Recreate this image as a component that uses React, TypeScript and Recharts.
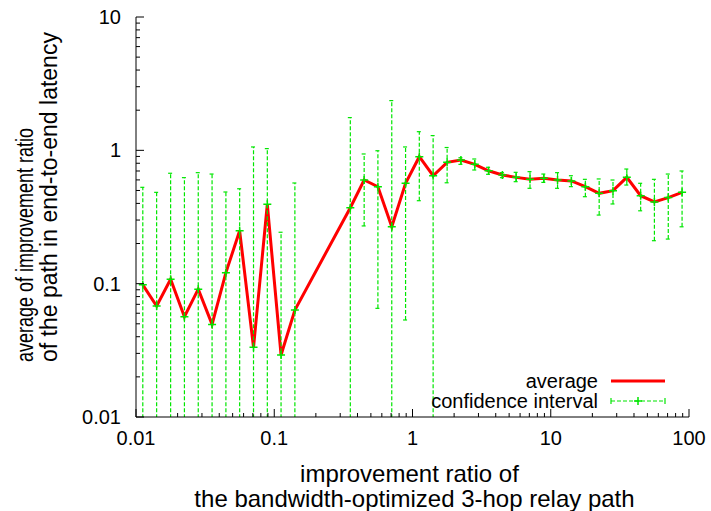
import React from 'react';
import * as R from 'recharts';
import { ComposedChart, Line, ErrorBar, XAxis, YAxis, Legend } from 'recharts';

// bin centres of the improvement ratio (log-spaced, 0.1 decade)
const X_VALUES = [
  0.0112, 0.0141, 0.0178, 0.0224, 0.0282, 0.0355, 0.0447, 0.0562, 0.0708, 0.0891, 0.112, 0.141,
  0.355, 0.447, 0.562, 0.708, 0.891, 1.12, 1.41, 1.78, 2.24, 2.82, 3.55, 4.47, 5.62, 7.08, 8.91,
  11.2, 14.1, 17.8, 22.4, 28.2, 35.5, 44.7, 56.2, 70.8, 89.1,
];

const AVERAGE = [
  0.098, 0.068, 0.108, 0.0565, 0.091, 0.0495, 0.121, 0.249, 0.0333, 0.394, 0.0292, 0.0634,
  0.371, 0.599, 0.533, 0.267, 0.566, 0.896, 0.645, 0.813, 0.846, 0.785, 0.703, 0.653, 0.627, 0.606, 0.617,
  0.599, 0.589, 0.534, 0.476, 0.498, 0.627, 0.457, 0.41, 0.442, 0.484,
];

// lower end of the interval; 0.001 = runs off the bottom of the axis
const CI_LOW = [
  0.001, 0.001, 0.001, 0.001, 0.001, 0.001, 0.001, 0.001, 0.001, 0.001, 0.001, 0.001,
  0.001, 0.271, 0.0653, 0.001, 0.0534, 0.419, 0.001, 0.571, 0.785, 0.712, 0.661, 0.624, 0.582, 0.519, 0.575,
  0.519, 0.534, 0.449, 0.327, 0.396, 0.549, 0.352, 0.21, 0.216, 0.267,
];

const CI_HIGH = [
  0.528, 0.484, 0.673, 0.624, 0.68, 0.664, 0.487, 0.515, 1.06, 1.03, 0.243, 0.569,
  1.76, 0.939, 0.993, 2.36, 1.06, 1.38, 1.29, 1.05, 0.88, 0.861, 0.746, 0.68, 0.684, 0.692, 0.664,
  0.68, 0.645, 0.606, 0.61, 0.599, 0.724, 0.566, 0.606, 0.664, 0.7,
];

const X_MAJOR = [0.01, 0.1, 1, 10, 100];
const X_LABELS = ['0.01', '0.1', '1', '10', '100'];
const Y_MAJOR = [0.01, 0.1, 1, 10];
const Y_LABELS = ['0.01', '0.1', '1', '10'];
const MINOR_STEPS = [2, 3, 4, 5, 6, 7, 8, 9];

const FONT = '"Liberation Sans", Arial, Helvetica, sans-serif';
const RED = '#ff0000';
const GREEN = '#00e600';

const withMinor = (majors: number[]) =>
  majors.flatMap((m, i) =>
    i < majors.length - 1 ? [m, ...MINOR_STEPS.map((s) => +(m * s).toPrecision(3))] : [m]
  );

const X_TICKS = withMinor(X_MAJOR);
const Y_TICKS = withMinor(Y_MAJOR);

const majorIndex = (majors: number[], v: number) =>
  majors.findIndex((m) => Math.abs(m - v) < m * 1e-6);

const data = X_VALUES.map((x, i) => ({
  x,
  avg: AVERAGE[i],
  ci: [AVERAGE[i] - CI_LOW[i], CI_HIGH[i] - AVERAGE[i]],
}));

const BottomTick = ({ x, y, payload }: any) => {
  const idx = majorIndex(X_MAJOR, payload.value);
  return (
    <g>
      <line x1={x} x2={x} y1={y} y2={y - (idx >= 0 ? 8 : 4)} stroke="#000" />
      {idx >= 0 && (
        <text x={x} y={y + 28} textAnchor="middle" fontSize={20} fontFamily={FONT} fill="#000">
          {X_LABELS[idx]}
        </text>
      )}
    </g>
  );
};

const TopTick = ({ x, y, payload }: any) => {
  const len = majorIndex(X_MAJOR, payload.value) >= 0 ? 8 : 4;
  return <line x1={x} x2={x} y1={y} y2={y + len} stroke="#000" />;
};

const LeftTick = ({ x, y, payload }: any) => {
  const idx = majorIndex(Y_MAJOR, payload.value);
  return (
    <g>
      <line x1={x} x2={x + (idx >= 0 ? 8 : 4)} y1={y} y2={y} stroke="#000" />
      {idx >= 0 && (
        <text x={x - 15} y={y + 7} textAnchor="end" fontSize={20} fontFamily={FONT} fill="#000">
          {Y_LABELS[idx]}
        </text>
      )}
    </g>
  );
};

const RightTick = ({ x, y, payload }: any) => {
  const len = majorIndex(Y_MAJOR, payload.value) >= 0 ? 8 : 4;
  return <line x1={x} x2={x - len} y1={y} y2={y} stroke="#000" />;
};

const XTitle = ({ viewBox }: any) => {
  const cx = viewBox.x + viewBox.width / 2;
  return (
    <text textAnchor="middle" fontSize={24} fontFamily={FONT} fill="#000">
      <tspan x={cx - 3} y={viewBox.y + 65}>improvement ratio of</tspan>
      <tspan x={cx + 2} y={viewBox.y + 90}>the bandwidth-optimized 3-hop relay path</tspan>
    </text>
  );
};

const YTitle = ({ viewBox }: any) => {
  const base = viewBox.y + 345;
  return (
    <g fontSize={23} fontFamily={FONT} fill="#000">
      <text
        transform={`translate(33, ${base}) rotate(-90)`}
        textAnchor="start"
        textLength={234}
        lengthAdjust="spacingAndGlyphs"
      >
        average of improvement ratio
      </text>
      <text transform={`translate(57, ${base}) rotate(-90)`} textAnchor="start">
        of the path in end-to-end latency
      </text>
    </g>
  );
};

const PlusMark = ({ cx, cy }: any) => {
  if (cx == null || cy == null) return null;
  return <path d={`M${cx - 4},${cy}h8M${cx},${cy - 4}v8`} stroke={GREEN} strokeWidth={1.5} fill="none" />;
};

// keep the error bars inside the plot frame
const usePlotAreaSafe: () => any = (R as any).usePlotArea || (() => null);
const ErrorBarClip = () => {
  const area = usePlotAreaSafe();
  const a = area || { x: 136, y: 17, width: 553, height: 400 };
  return (
    <defs>
      <clipPath id="ci-clip" clipPathUnits="userSpaceOnUse">
        <rect x={a.x} y={a.y} width={a.width} height={a.height} />
      </clipPath>
      <style>{'.recharts-errorBar, .recharts-errorBars { clip-path: url(#ci-clip); }'}</style>
    </defs>
  );
};

const LegendBox = () => (
  <svg width={300} height={56} style={{ display: 'block', overflow: 'visible' }}>
    <g fontSize={20} fontFamily={FONT} fill="#000" textAnchor="end">
      <text x={218} y={28}>average</text>
      <text x={218} y={48}>confidence interval</text>
    </g>
    <line x1={231} x2={285} y1={21} y2={21} stroke={RED} strokeWidth={3} />
    <line x1={231} x2={285} y1={41} y2={41} stroke={GREEN} strokeWidth={1.2} strokeDasharray="4 2" />
    <line x1={231} x2={231} y1={38} y2={44} stroke={GREEN} strokeWidth={1.2} />
    <line x1={285} x2={285} y1={38} y2={44} stroke={GREEN} strokeWidth={1.2} />
    <path d="M254,41h8M258,37v8" stroke={GREEN} strokeWidth={1.5} />
  </svg>
);

export default function App() {
  return (
    <div style={{ position: 'absolute', left: 0, top: 0, width: 711, height: 511, background: '#fff' }}>
      <ComposedChart width={711} height={511} data={data} margin={{ top: 17, right: 22, bottom: 0, left: 0 }}>
        <ErrorBarClip />
        <XAxis
          xAxisId="b"
          dataKey="x"
          type="number"
          scale="log"
          domain={[0.01, 100]}
          allowDataOverflow
          ticks={X_TICKS}
          interval={0}
          tickSize={0}
          tickMargin={0}
          tickLine={false}
          tick={<BottomTick />}
          height={94}
          axisLine={{ stroke: '#000' }}
          label={<XTitle />}
        />
        <XAxis
          xAxisId="t"
          orientation="top"
          dataKey="x"
          type="number"
          scale="log"
          domain={[0.01, 100]}
          allowDataOverflow
          ticks={X_TICKS}
          interval={0}
          tickSize={0}
          tickMargin={0}
          tickLine={false}
          tick={<TopTick />}
          height={0}
          axisLine={{ stroke: '#000' }}
        />
        <YAxis
          yAxisId="l"
          type="number"
          scale="log"
          domain={[0.01, 10]}
          allowDataOverflow
          ticks={Y_TICKS}
          interval={0}
          tickSize={0}
          tickMargin={0}
          tickLine={false}
          tick={<LeftTick />}
          width={136}
          axisLine={{ stroke: '#000' }}
          label={<YTitle />}
        />
        <YAxis
          yAxisId="r"
          orientation="right"
          type="number"
          scale="log"
          domain={[0.01, 10]}
          allowDataOverflow
          ticks={Y_TICKS}
          interval={0}
          tickSize={0}
          tickMargin={0}
          tickLine={false}
          tick={<RightTick />}
          width={0}
          axisLine={{ stroke: '#000' }}
        />
        <Line
          xAxisId="b"
          yAxisId="l"
          dataKey="avg"
          name="average"
          type="linear"
          stroke={RED}
          strokeWidth={3}
          dot={false}
          isAnimationActive={false}
        />
        <Line
          xAxisId="b"
          yAxisId="l"
          dataKey="avg"
          name="confidence interval"
          type="linear"
          stroke="none"
          dot={<PlusMark />}
          activeDot={false}
          isAnimationActive={false}
        >
          <ErrorBar dataKey="ci" direction="y" width={2.5} stroke={GREEN} strokeWidth={1.2} strokeDasharray="4 2" isAnimationActive={false} />
        </Line>
        <Legend
          layout="vertical"
          align="center"
          verticalAlign="middle"
          content={<LegendBox />}
          wrapperStyle={{ position: 'absolute', left: 380, top: 360, width: 300, height: 56 }}
        />
      </ComposedChart>
    </div>
  );
}
